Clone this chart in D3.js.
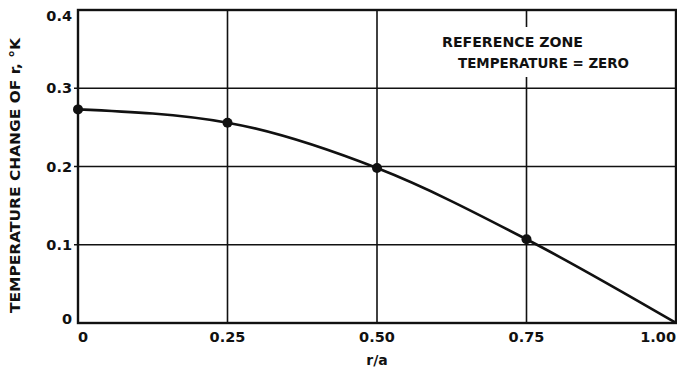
<!DOCTYPE html>
<html>
<head>
<meta charset="utf-8">
<script src="https://cdn.jsdelivr.net/npm/d3@7"></script>
<style>
  body { margin: 0; background: #fff; }
  text { font-family: "DejaVu Sans", sans-serif; font-weight: bold; fill: #111; }
</style>
</head>
<body>
<svg id="chart" width="677" height="377"></svg>
<script>
// data
const ratio = [0, 0.25, 0.5, 0.75, 1.0]
const tempChange = [0.273, 0.256, 0.198, 0.107, 0]
const markedRatio = [0, 0.25, 0.5, 0.75]
const xTicks = [0, 0.25, 0.5, 0.75, 1.0]
const xTickLabels = ["0", "0.25", "0.50", "0.75", "1.00"]
const yTicks = [0, 0.1, 0.2, 0.3, 0.4]
const yTickLabels = ["0", "0.1", "0.2", "0.3", "0.4"]

const margin = { top: 10, right: 1, bottom: 54, left: 78 }
const width = 677, height = 377

const svg = d3.select("#chart")
const x = d3.scaleLinear().domain([0, 1]).range([margin.left, width - margin.right])
const y = d3.scaleLinear().domain([0, 0.4]).range([height - margin.bottom, margin.top])

const points = ratio.map((r, i) => ({ r, t: tempChange[i] }))

// grid
svg.append("g")
  .selectAll("line")
  .data(xTicks.slice(1, -1))
  .join("line")
  .attr("x1", d => x(d)).attr("x2", d => x(d))
  .attr("y1", y(0)).attr("y2", y(0.4))
  .attr("stroke", "#111").attr("stroke-width", 1.6)

svg.append("g")
  .selectAll("line")
  .data(yTicks.slice(1, -1))
  .join("line")
  .attr("x1", x(0) - 4).attr("x2", x(1))
  .attr("y1", d => y(d)).attr("y2", d => y(d))
  .attr("stroke", "#111").attr("stroke-width", 1.6)

// note box (breaks the grid line behind the text)
const note = svg.append("g")
note.append("rect")
  .attr("x", 436).attr("y", 27).attr("width", 160).attr("height", 50)
  .attr("fill", "#fff")
note.append("text").attr("x", 442).attr("y", 47).attr("font-size", 14)
  .attr("textLength", 141).attr("lengthAdjust", "spacingAndGlyphs").text("REFERENCE ZONE")
note.append("text").attr("x", 458).attr("y", 68).attr("font-size", 14)
  .attr("textLength", 171).attr("lengthAdjust", "spacingAndGlyphs").text("TEMPERATURE = ZERO")

// frame
svg.append("rect")
  .attr("x", x(0)).attr("y", y(0.4))
  .attr("width", x(1) - x(0)).attr("height", y(0) - y(0.4))
  .attr("fill", "none").attr("stroke", "#111").attr("stroke-width", 2.4)

// curve
const line = d3.line()
  .x(d => x(d.r))
  .y(d => y(d.t))
  .curve(d3.curveMonotoneX)

svg.append("path")
  .datum(points)
  .attr("d", line)
  .attr("fill", "none")
  .attr("stroke", "#111")
  .attr("stroke-width", 2.6)

svg.append("g")
  .selectAll("circle")
  .data(points.filter(p => markedRatio.includes(p.r)))
  .join("circle")
  .attr("cx", d => x(d.r))
  .attr("cy", d => y(d.t))
  .attr("r", 5)
  .attr("fill", "#111")

// tick labels
svg.append("g")
  .selectAll("text")
  .data(yTicks)
  .join("text")
  .attr("x", x(0) - 6)
  .attr("y", d => Math.max(y(0.4) + 6, Math.min(y(0) - 4, y(d))))
  .attr("dy", "0.36em")
  .attr("text-anchor", "end")
  .attr("font-size", 14.5)
  .text((d, i) => yTickLabels[i])

svg.append("g")
  .selectAll("text")
  .data(xTicks)
  .join("text")
  .attr("x", d => x(d))
  .attr("y", y(0) + 19)
  .attr("text-anchor", (d, i) => i === 0 ? "start" : i === xTicks.length - 1 ? "end" : "middle")
  .attr("font-size", 14.5)
  .text((d, i) => xTickLabels[i])

// axis titles
svg.append("text")
  .attr("x", (x(0) + x(1)) / 2)
  .attr("y", 365)
  .attr("text-anchor", "middle")
  .attr("font-size", 14)
  .text("r/a")

svg.append("text")
  .attr("transform", `translate(20, 313) rotate(-90)`)
  .attr("font-size", 13.5)
  .attr("textLength", 275)
  .attr("lengthAdjust", "spacingAndGlyphs")
  .text("TEMPERATURE CHANGE OF r, °K")
</script>
</body>
</html>
